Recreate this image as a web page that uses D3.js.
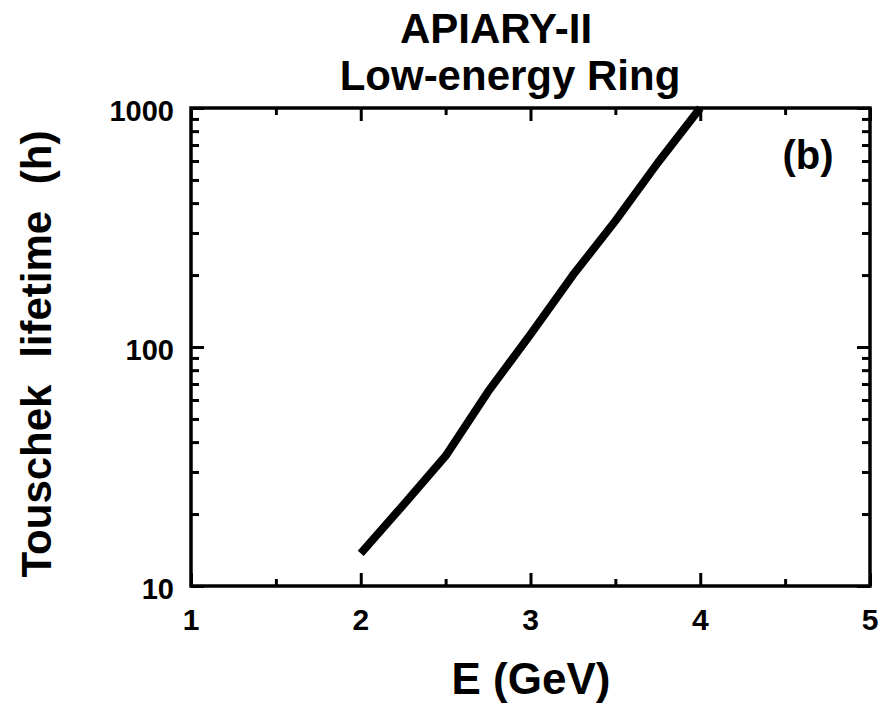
<!DOCTYPE html>
<html>
<head>
<meta charset="utf-8">
<script src="https://cdn.jsdelivr.net/npm/d3@7"></script>
<style>
  body { margin: 0; background: #fff; }
  text { font-family: "Liberation Sans", Arial, sans-serif; font-weight: bold; fill: #000; }
</style>
</head>
<body>
<svg id="chart"></svg>
<script>
// Данные кривой (E в ГэВ, время жизни в часах)
const energy = [2.0, 2.25, 2.5, 2.75, 3.0, 3.25, 3.5, 3.75, 4.0];
const lifetime = [13.7, 21.8, 35, 65, 113, 200, 337, 590, 1000];
const xTicks = [1, 2, 3, 4, 5];
const xMinor = [1.5, 2.5, 3.5, 4.5];
const yTicks = [10, 100, 1000];
const yMinor = [20, 30, 40, 50, 60, 70, 80, 90, 200, 300, 400, 500, 600, 700, 800, 900];

const width = 881, height = 707;
const margin = {left: 191, right: 11, top: 108, bottom: 121};

const svg = d3.select("#chart").attr("width", width).attr("height", height);

const x = d3.scaleLinear().domain([1, 5]).range([margin.left, width - margin.right]);
const y = d3.scaleLog().domain([10, 1000]).range([height - margin.bottom, margin.top]);

// Рамка графика
svg.append("rect")
  .attr("x", x(1)).attr("y", y(1000))
  .attr("width", x(5) - x(1)).attr("height", y(10) - y(1000))
  .attr("fill", "none").attr("stroke", "#000").attr("stroke-width", 3.5);

// Засечки внутрь со всех четырёх сторон
function ticks(axis, vals, len) {
  axis.tickValues(vals).tickSize(-len).tickFormat("");
  return axis;
}
const gx = svg.append("g");
gx.append("g").attr("transform", `translate(0,${y(10)})`).call(ticks(d3.axisBottom(x), xTicks, 13));
gx.append("g").attr("transform", `translate(0,${y(10)})`).call(ticks(d3.axisBottom(x), xMinor, 7));
gx.append("g").attr("transform", `translate(0,${y(1000)})`).call(ticks(d3.axisTop(x), xTicks, 13));
gx.append("g").attr("transform", `translate(0,${y(1000)})`).call(ticks(d3.axisTop(x), xMinor, 7));
gx.append("g").attr("transform", `translate(${x(1)},0)`).call(ticks(d3.axisLeft(y), yTicks, 13));
gx.append("g").attr("transform", `translate(${x(1)},0)`).call(ticks(d3.axisLeft(y), yMinor, 8));
gx.append("g").attr("transform", `translate(${x(5)},0)`).call(ticks(d3.axisRight(y), yTicks, 13));
gx.append("g").attr("transform", `translate(${x(5)},0)`).call(ticks(d3.axisRight(y), yMinor, 8));
gx.selectAll(".domain").remove();
gx.selectAll(".tick line").attr("stroke", "#000").attr("stroke-width", 3);

// Подписи делений
svg.append("g").selectAll("text").data(xTicks).join("text")
  .attr("x", d => x(d)).attr("y", y(10) + 44)
  .attr("text-anchor", "middle").attr("font-size", 30)
  .text(d => d);
svg.append("g").selectAll("text").data(yTicks).join("text")
  .attr("x", x(1) - 17).attr("y", d => y(d) + 13)
  .attr("text-anchor", "end").attr("font-size", 29)
  .text(d => d);

// Кривая
const line = d3.line().x((d, i) => x(energy[i])).y(d => y(d));
svg.append("path")
  .attr("d", line(lifetime))
  .attr("fill", "none").attr("stroke", "#000").attr("stroke-width", 8)
  .attr("stroke-linejoin", "round");

// Заголовок и подписи осей
svg.append("text").attr("x", 496).attr("y", 43).attr("text-anchor", "middle")
  .attr("font-size", 42).text("APIARY-II");
svg.append("text").attr("x", 510).attr("y", 90).attr("text-anchor", "middle")
  .attr("font-size", 42).text("Low-energy Ring");
svg.append("text").attr("x", 808).attr("y", 169).attr("text-anchor", "middle")
  .attr("font-size", 40).text("(b)");
svg.append("text").attr("x", 531).attr("y", 694).attr("text-anchor", "middle")
  .attr("font-size", 44).text("E (GeV)");
svg.append("text").attr("transform", "translate(51,354) rotate(-90)").attr("text-anchor", "middle")
  .attr("font-size", 42).attr("word-spacing", 15).text("Touschek lifetime (h)");
</script>
</body>
</html>
